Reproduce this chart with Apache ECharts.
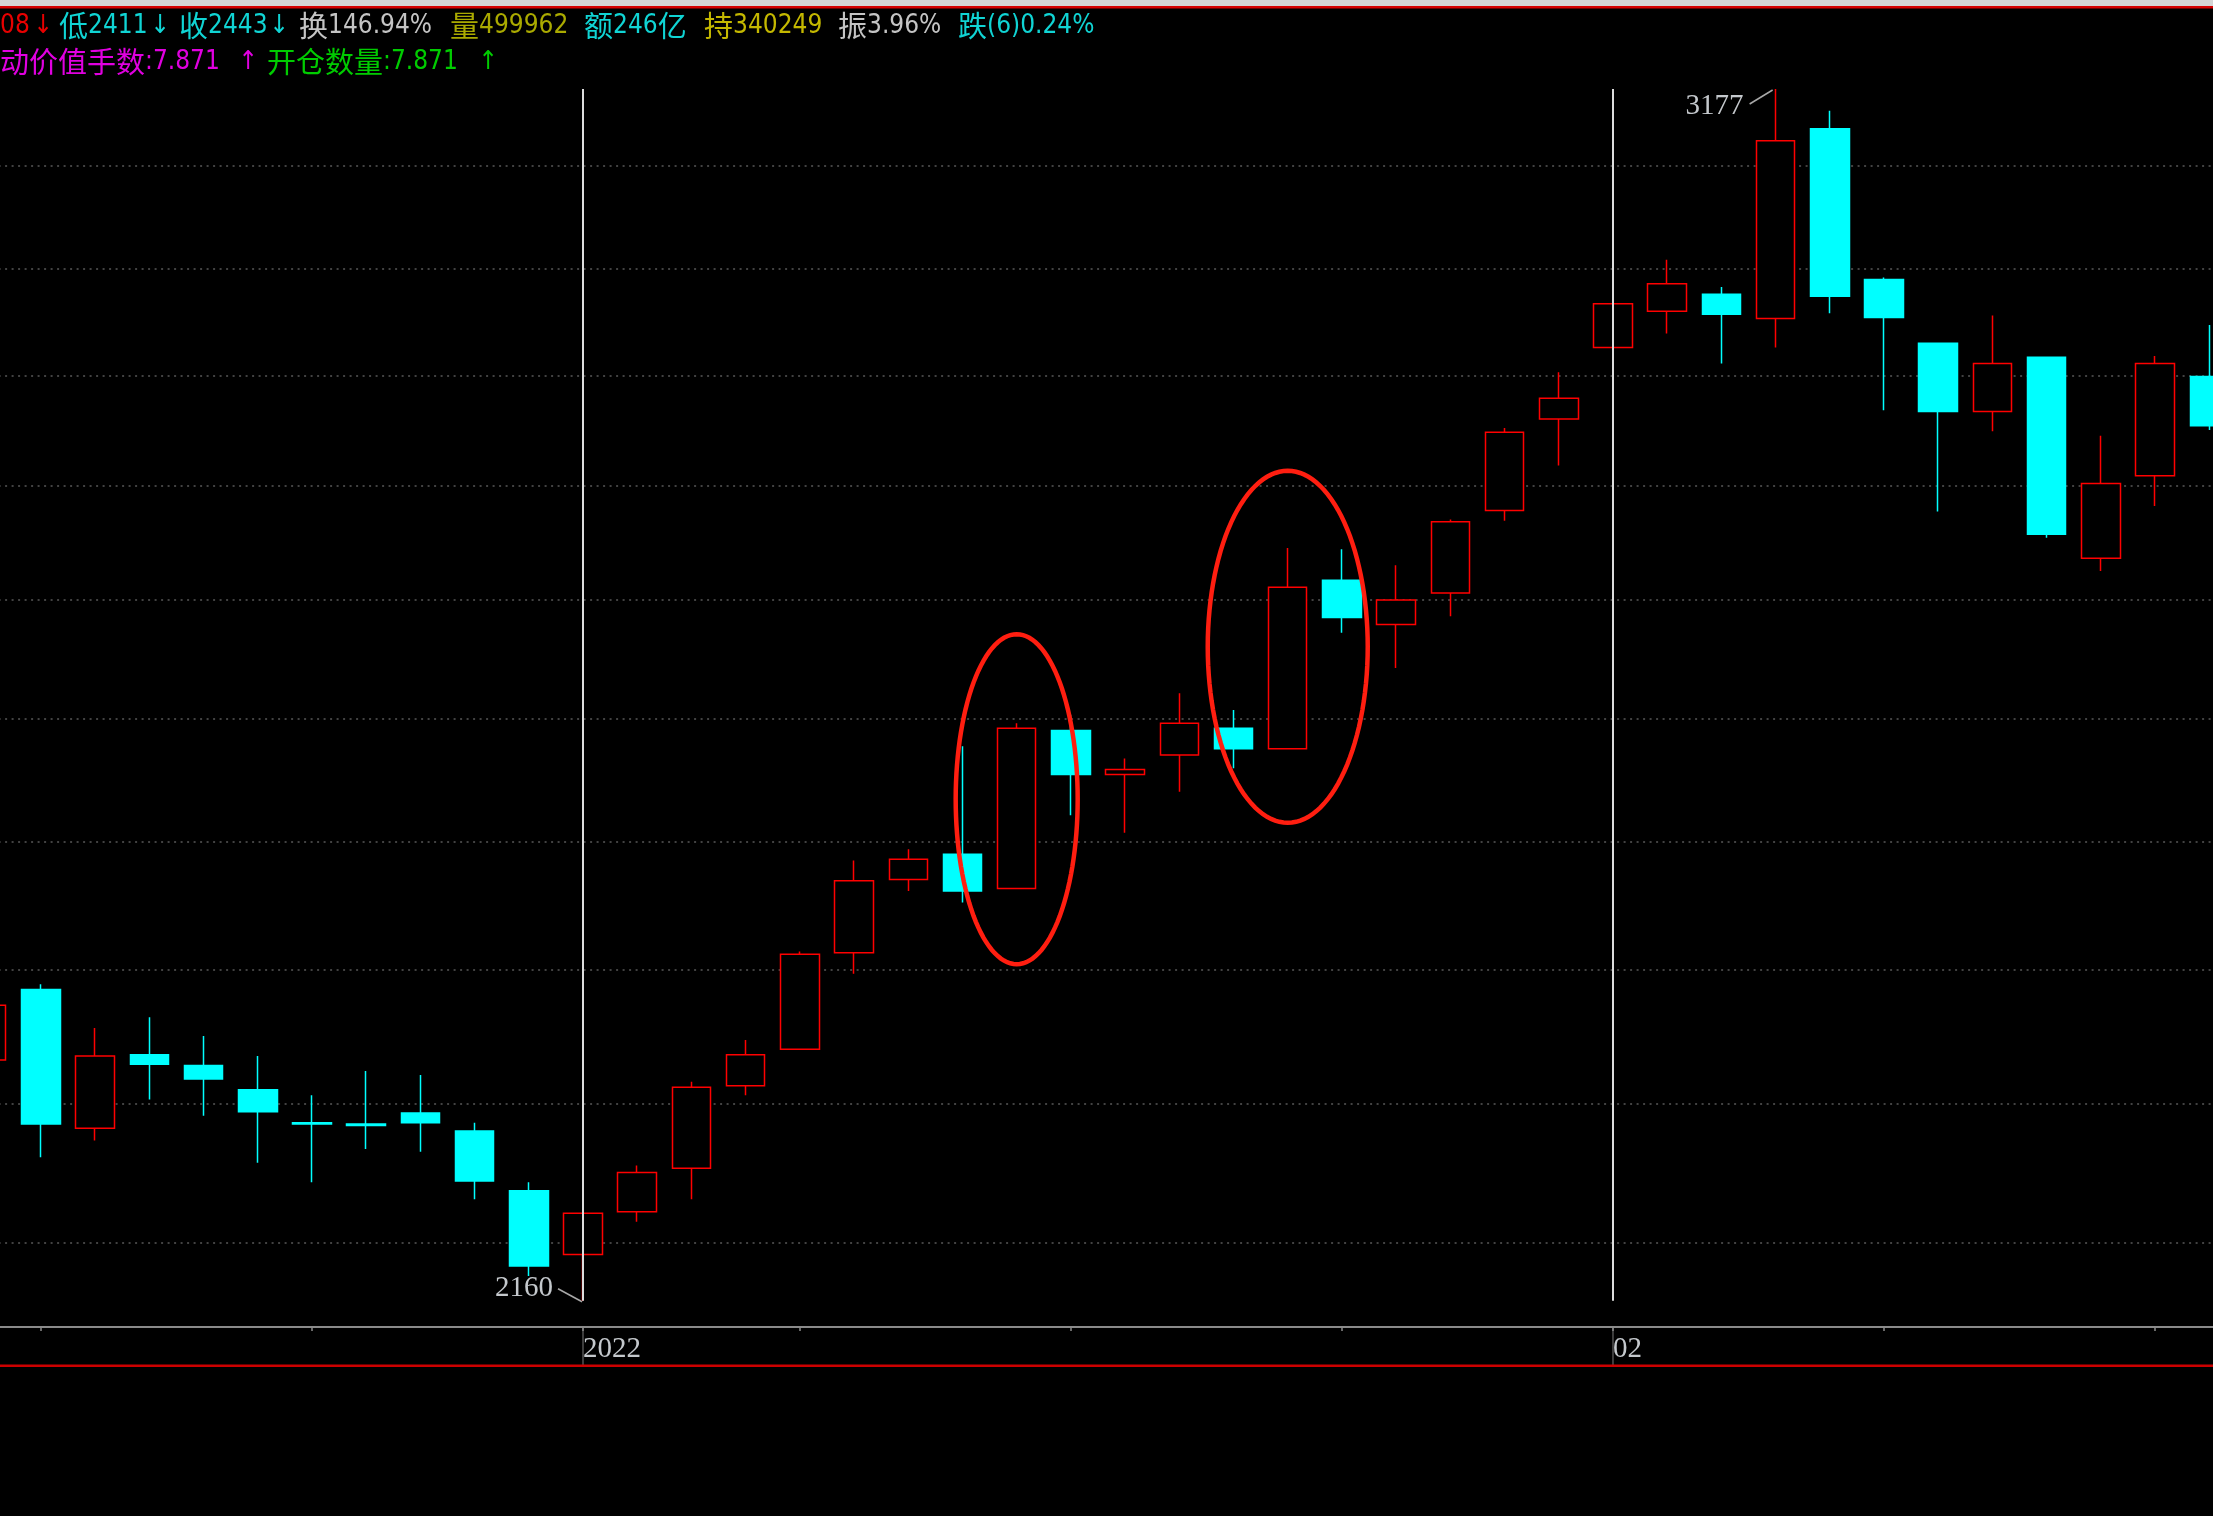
<!DOCTYPE html>
<html>
<head>
<meta charset="utf-8">
<script src="https://cdn.jsdelivr.net/npm/echarts@6/dist/echarts.min.js"></script>
<style>
html,body{margin:0;padding:0;background:#000;}
#c{width:2213px;height:1516px;}
</style>
</head>
<body>
<div id="c"></div>
<script>
// ---------------- data ----------------
const dates = [
  '2021-12-17','2021-12-20','2021-12-21','2021-12-22','2021-12-23','2021-12-24',
  '2021-12-27','2021-12-28','2021-12-29','2021-12-30','2021-12-31',
  '2022-01-04','2022-01-05','2022-01-06','2022-01-07',
  '2022-01-10','2022-01-11','2022-01-12','2022-01-13','2022-01-14',
  '2022-01-17','2022-01-18','2022-01-19','2022-01-20','2022-01-21',
  '2022-01-24','2022-01-25','2022-01-26','2022-01-27','2022-01-28',
  '2022-02-07','2022-02-08','2022-02-09','2022-02-10','2022-02-11',
  '2022-02-14','2022-02-15','2022-02-16','2022-02-17','2022-02-18',
  '2022-02-21','2022-02-22'
];
const openP  = [2332,2385,2282,2336,2328,2310,2286,2285,2293,2280,2237,2192,2222,2253,2313,2340,2413,2470,2490,2463,2590,2554,2570,2592,2575,2717,2679,2706,2778,2860,2926,2960,2976,2953,3137,2990,2930,2867,2917,2736,2809,2899];
const closeP = [2373,2285,2335,2329,2318,2294,2285,2284,2286,2244,2184,2221,2250,2312,2336,2412,2469,2486,2461,2592,2554,2558,2596,2575,2711,2685,2700,2768,2848,2879,2967,2986,2957,3125,2974,2954,2867,2911,2757,2802,2911,2854];
const lowP   = [2332,2261,2273,2303,2291,2257,2243,2267,2265,2231,2177,2160,2215,2231,2306,2340,2397,2461,2452,2463,2521,2507,2540,2559,2575,2672,2642,2686,2769,2818,2926,2939,2911,2926,2958,2868,2777,2849,2754,2725,2782,2850];
const highP  = [2373,2389,2356,2364,2350,2335,2306,2324,2321,2286,2243,2221,2255,2316,2347,2414,2485,2494,2577,2596,2603,2567,2621,2607,2745,2744,2730,2770,2852,2903,2967,3009,2983,3177,3155,2992,2930,2956,2917,2845,2918,2947];
const gridPrices = [2200,2300,2400,2500,2600,2700,2800,2900,3000,3100];
const headerLine1 = ['08','↓','低2411','↓','收2443','↓','换146.94%','量499962','额246亿','持340249','振3.96%','跌(6)0.24%'];
const headerLine2 = ['动价值手数:7.871','↑','开仓数量:7.871','↑'];
// annotated candles (category index, price at ellipse centre)
const circledIdx = [19, 24];
const circledPrice = [2534, 2660];

// ---------------- derived ----------------
const candles = dates.map((d, i) => [openP[i], closeP[i], lowP[i], highP[i]]);
const boundaries = [];
const labelText = {};
dates.forEach((d, i) => {
  if (i === 0) return;
  const p = dates[i - 1];
  if (d.slice(0, 7) !== p.slice(0, 7)) {
    boundaries.push(i);
    labelText[i] = d.slice(0, 4) !== p.slice(0, 4) ? d.slice(0, 4) : d.slice(5, 7);
  }
});
const tickSet = new Set();
dates.forEach((d, i) => {
  if (new Date(d + 'T00:00:00Z').getUTCDay() === 1 || boundaries.includes(i)) tickSet.add(i);
});
const boundarySet = new Set(boundaries);
const maxHigh = Math.max(...highP);
const minLow = Math.min(...lowP);
const maxIdx = highP.indexOf(maxHigh);
const minIdx = lowP.indexOf(minLow);

// ---------------- style ----------------
const RED = '#ff0000', CYAN = '#00ffff';
const labelFont = 'Liberation Serif';
const labelColor = '#c4c8cc';

const chart = echarts.init(document.getElementById('c'), null, {renderer: 'canvas', width: 2213, height: 1516});

chart.setOption({
  backgroundColor: '#000',
  animation: false,
  grid: {left: -40.4, right: -23.4, top: 89, bottom: 189, containLabel: false, outerBoundsMode: 'none'},
  xAxis: {
    type: 'category',
    data: dates,
    boundaryGap: true,
    axisLine: {show: true, lineStyle: {color: '#8a8a8a', width: 2}},
    axisTick: {show: true, alignWithLabel: true, interval: (i) => tickSet.has(i), length: 4, lineStyle: {color: '#8a8a8a', width: 1.5}},
    axisLabel: {
      show: true, interval: (i) => boundarySet.has(i),
      formatter: (v, i) => labelText[i] || '',
      align: 'left', color: labelColor, fontFamily: labelFont, fontSize: 29, margin: 8
    },
    splitLine: {show: false}
  },
  yAxis: {
    type: 'log', logBase: 10, min: 2142, max: 3177,
    axisLine: {show: false}, axisTick: {show: false}, axisLabel: {show: false}, splitLine: {show: false}
  },
  series: [
    {
      type: 'line', data: [], silent: true, z: 1,
      markLine: {
        silent: true, z: 1, symbol: ['none', 'none'], label: {show: false},
        lineStyle: {color: '#585858', width: 1.5, type: [2, 4.5]},
        emphasis: {disabled: true},
        data: gridPrices.map(v => ({yAxis: v}))
      }
    },
    {
      type: 'candlestick', data: candles, barWidth: 39, z: 2, silent: true,
      itemStyle: {color: '#000000', color0: CYAN, borderColor: RED, borderColor0: CYAN, borderWidth: 1.5},
      markLine: {
        silent: true, z: 5, symbol: ['none', 'none'], label: {show: false},
        lineStyle: {color: '#dcdcdc', width: 2, type: 'solid'},
        emphasis: {disabled: true},
        data: boundaries.map(i => [{coord: [dates[i], maxHigh]}, {coord: [dates[i], minLow]}])
      }
    }
  ]
});

// ---------------- overlays ----------------
const px = (i, v) => chart.convertToPixel({gridIndex: 0}, [i, v]);
const g = [];
// window top edge
g.push({type: 'rect', shape: {x: 0, y: 0, width: 2213, height: 6}, style: {fill: '#d4d4d4'}, silent: true});
g.push({type: 'rect', shape: {x: 0, y: 6, width: 2213, height: 2.5}, style: {fill: '#d40000'}, silent: true});

// header texts: CJK runs and half-width runs get their own sizes
const richStyles = {
  c: {fontFamily: '"Noto Sans CJK SC"', fontSize: 29, verticalAlign: 'middle'},
  a: {fontFamily: '"DejaVu Sans Condensed", "Liberation Mono", "DejaVu Sans"', fontSize: 26, verticalAlign: 'middle'}
};
const toRich = (t) => t.replace(/([\u3400-\u9fff]+)|([^\u3400-\u9fff]+)/g, (m, c, a) => c ? '{c|' + c + '}' : '{a|' + a + '}');
const h1x = [0, 43, 59, 160, 179, 279, 299, 450, 584, 704, 838, 958];
const h1c = ['#e80000','#e80000','#10d4d4','#10d4d4','#10d4d4','#10d4d4','#c4c4c4','#aaaa00','#10d4d4','#c4b800','#c4c4c4','#10d4d4'];
const h1a = ['left','center','left','center','left','center','left','left','left','left','left','left'];
headerLine1.forEach((t, k) => g.push({type: 'text', x: h1x[k], y: 26, silent: true,
  style: {text: toRich(t), rich: richStyles, fill: h1c[k], align: h1a[k], verticalAlign: 'middle'}}));
const h2x = [0, 248, 267, 488];
const h2c = ['#e000e0','#e000e0','#00cc00','#00cc00'];
const h2a = ['left','center','left','center'];
headerLine2.forEach((t, k) => g.push({type: 'text', x: h2x[k], y: 62, silent: true,
  style: {text: toRich(t), rich: richStyles, fill: h2c[k], align: h2a[k], verticalAlign: 'middle'}}));

// max / min labels
const pH = px(maxIdx, maxHigh);
g.push({type: 'line', shape: {x1: pH[0] - 3, y1: pH[1] + 1, x2: pH[0] - 26, y2: pH[1] + 15}, style: {stroke: '#a8a8a8', lineWidth: 1.5}, silent: true});
g.push({type: 'text', x: pH[0] - 32, y: pH[1] + 17, silent: true,
  style: {text: String(maxHigh), fill: labelColor, fontFamily: labelFont, fontSize: 29, align: 'right', verticalAlign: 'middle'}});
const pL = px(minIdx, minLow);
g.push({type: 'line', shape: {x1: pL[0] - 1, y1: pL[1] + 1, x2: pL[0] - 25, y2: pL[1] - 12}, style: {stroke: '#a8a8a8', lineWidth: 1.5}, silent: true});
g.push({type: 'text', x: pL[0] - 30, y: pL[1] - 12, silent: true,
  style: {text: String(minLow), fill: labelColor, fontFamily: labelFont, fontSize: 29, align: 'right', verticalAlign: 'middle'}});

// red ellipses around circled candles
const ellR = [[61, 165], [80, 176]];
circledIdx.forEach((ci, k) => {
  const c = px(ci, circledPrice[k]);
  const pts = [];
  for (let a = 0; a < 120; a++) {
    const t = a / 120 * Math.PI * 2;
    pts.push([c[0] + ellR[k][0] * Math.cos(t), c[1] + ellR[k][1] * Math.sin(t)]);
  }
  g.push({type: 'polygon', shape: {points: pts}, style: {fill: null, stroke: '#ff1e10', lineWidth: 4.5}, silent: true, z: 10});
});

// separators below axis at month boundaries, and the red panel border
const axisY = 1516 - 189;
boundaries.forEach(i => {
  const p = px(i, maxHigh);
  g.push({type: 'line', shape: {x1: p[0], y1: axisY + 1, x2: p[0], y2: 1365}, style: {stroke: '#7a7a7a', lineWidth: 1}, silent: true});
});
g.push({type: 'rect', shape: {x: 0, y: 1364.5, width: 2213, height: 2.5}, style: {fill: '#cc0000'}, silent: true});

chart.setOption({graphic: g});
</script>
</body>
</html>
